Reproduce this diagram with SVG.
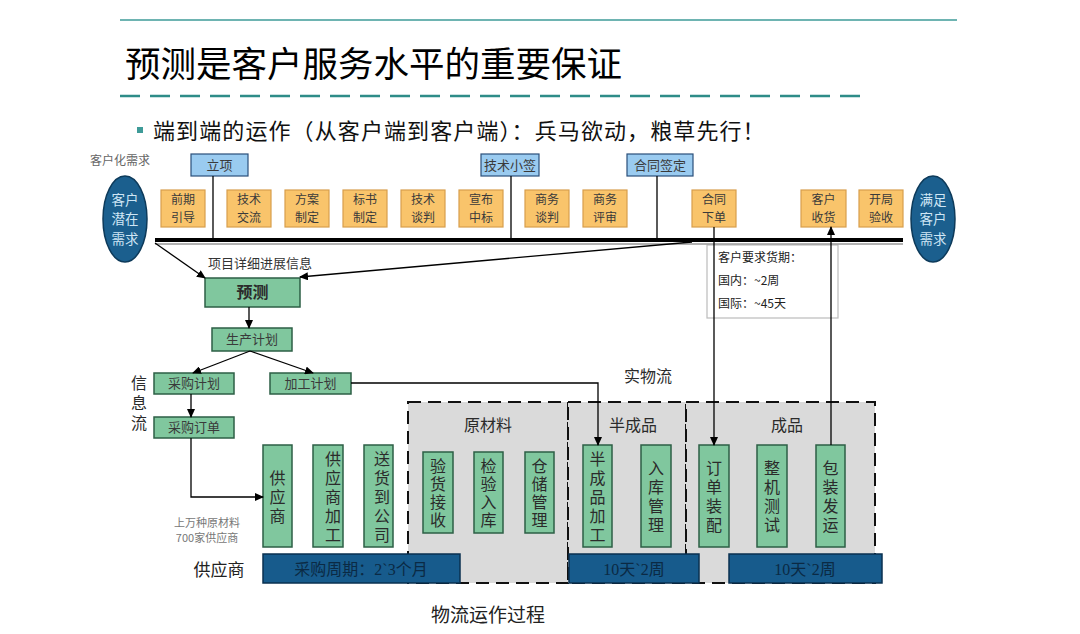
<svg xmlns="http://www.w3.org/2000/svg" width="1080" height="634" viewBox="0 0 1080 634">
<defs>
<marker id="arr" markerWidth="9" markerHeight="8" refX="8" refY="4" orient="auto" markerUnits="userSpaceOnUse">
<path d="M0,0 L9,4 L0,8 z" fill="#000"/>
</marker>
<style>
text{font-family:"Noto Sans CJK SC","Liberation Sans",sans-serif}
.ser{font-family:"Liberation Serif","Noto Sans CJK SC",serif}
.blue{fill:#9ACBF0;stroke:#2A4F7A;stroke-width:1.2}
.org{fill:#F9C46B;stroke:#D79E4C;stroke-width:1.2}
.grn{fill:#80C79E;stroke:#2D5F45;stroke-width:1.5}
.ell{fill:#1B5F8E;stroke:#0D3A5A;stroke-width:1.5}
.bar{fill:#175B8C;stroke:#0A3050;stroke-width:1.5}
.reg{fill:#DADADA;stroke:#111;stroke-width:2;stroke-dasharray:13 7}
.t13{font-size:13px;fill:#3a3a3a;text-anchor:middle}
.t12{font-size:12px;fill:#3a3a3a;text-anchor:middle}
.t16{font-size:16px;fill:#2b2b2b;text-anchor:middle}
.vt{font-size:16px;fill:#2b2b2b;text-anchor:middle;writing-mode:vertical-rl;text-orientation:upright;letter-spacing:3px}
.v2{letter-spacing:2px}
.te{font-size:13.5px;fill:#CFE6F5;text-anchor:middle}
.tb{font-size:16px;fill:#0B2A44;text-anchor:middle}
.ln{stroke:#000;stroke-width:1.3;fill:none}
.la{stroke:#000;stroke-width:1.3;fill:none;marker-end:url(#arr)}
</style>
</defs>
<rect width="1080" height="634" fill="#fff"/>

<!-- header -->
<line x1="120" y1="20" x2="957" y2="20" stroke="#3E9B98" stroke-width="1.5"/>
<text x="125" y="77" font-size="35.5" fill="#000">预测是客户服务水平的重要保证</text>
<line x1="120" y1="96" x2="865" y2="96" stroke="#2E8C88" stroke-width="2.5" stroke-dasharray="20 10"/>
<rect x="137" y="127" width="6" height="6" fill="#3E9B98"/>
<text x="153" y="139" font-size="22" letter-spacing="1.1" fill="#111">端到端的运作（从客户端到客户端）：兵马欲动，粮草先行！</text>
<text x="90" y="165" font-size="12" fill="#666">客户化需求</text>

<!-- regions -->
<g id="reg-raw"><rect class="reg" x="408" y="402" width="160" height="181"/><text class="t16" x="488" y="431" font-size="17">原材料</text></g>
<g id="reg-semi"><rect class="reg" x="568" y="402" width="118" height="181"/><text class="t16" x="633" y="431" font-size="17">半成品</text></g>
<g id="reg-fin"><rect class="reg" x="686" y="402" width="189" height="181"/><text class="t16" x="787" y="431" font-size="17">成品</text></g>

<!-- ellipses -->
<g id="n-start"><ellipse class="ell" cx="125" cy="219" rx="22" ry="43"/><text class="te"><tspan x="125" y="204.5">客户</tspan><tspan x="125" y="224">潜在</tspan><tspan x="125" y="243.5">需求</tspan></text></g>
<g id="n-end"><ellipse class="ell" cx="933" cy="219" rx="22" ry="43"/><text class="te"><tspan x="933" y="204.5">满足</tspan><tspan x="933" y="224">客户</tspan><tspan x="933" y="243.5">需求</tspan></text></g>

<!-- blue milestone boxes -->
<g id="n-lixiang"><rect class="blue" x="191" y="154" width="57" height="22"/><text class="t13" x="219.5" y="170" fill="#1a1a1a">立项</text></g>
<g id="n-jsxq"><rect class="blue" x="481" y="154" width="58" height="22"/><text class="t13" x="510" y="170">技术小签</text></g>
<g id="n-htqd"><rect class="blue" x="627" y="154" width="66" height="22"/><text class="t13" x="660" y="170">合同签定</text></g>

<!-- orange step boxes -->
<g id="n-o1"><rect class="org" x="161" y="190" width="44" height="37"/><text class="t12"><tspan x="183" y="204">前期</tspan><tspan x="183" y="221.5">引导</tspan></text></g>
<g id="n-o2"><rect class="org" x="227" y="190" width="44" height="37"/><text class="t12"><tspan x="249" y="204">技术</tspan><tspan x="249" y="221.5">交流</tspan></text></g>
<g id="n-o3"><rect class="org" x="285" y="190" width="44" height="37"/><text class="t12"><tspan x="307" y="204">方案</tspan><tspan x="307" y="221.5">制定</tspan></text></g>
<g id="n-o4"><rect class="org" x="343" y="190" width="44" height="37"/><text class="t12"><tspan x="365" y="204">标书</tspan><tspan x="365" y="221.5">制定</tspan></text></g>
<g id="n-o5"><rect class="org" x="401" y="190" width="44" height="37"/><text class="t12"><tspan x="423" y="204">技术</tspan><tspan x="423" y="221.5">谈判</tspan></text></g>
<g id="n-o6"><rect class="org" x="459" y="190" width="44" height="37"/><text class="t12"><tspan x="481" y="204">宣布</tspan><tspan x="481" y="221.5">中标</tspan></text></g>
<g id="n-o7"><rect class="org" x="525" y="190" width="44" height="37"/><text class="t12"><tspan x="547" y="204">商务</tspan><tspan x="547" y="221.5">谈判</tspan></text></g>
<g id="n-o8"><rect class="org" x="583" y="190" width="44" height="37"/><text class="t12"><tspan x="605" y="204">商务</tspan><tspan x="605" y="221.5">评审</tspan></text></g>
<g id="n-o9"><rect class="org" x="692" y="190" width="44" height="37"/><text class="t12"><tspan x="714" y="204">合同</tspan><tspan x="714" y="221.5">下单</tspan></text></g>
<g id="n-o10"><rect class="org" x="801" y="190" width="45" height="37"/><text class="t12"><tspan x="823.5" y="204">客户</tspan><tspan x="823.5" y="221.5">收货</tspan></text></g>
<g id="n-o11"><rect class="org" x="859" y="190" width="44" height="37"/><text class="t12"><tspan x="881" y="204">开局</tspan><tspan x="881" y="221.5">验收</tspan></text></g>

<!-- delivery note -->
<g id="n-note"><rect x="707" y="245" width="131" height="73" fill="#fff" stroke="#bbb" stroke-width="1.2"/>
<text x="718" y="262" font-size="12" fill="#222">客户要求货期：</text>
<text x="718" y="285" font-size="12" fill="#222">国内：~2周</text>
<text x="718" y="308" font-size="12" fill="#222">国际：~45天</text></g>

<!-- info flow -->
<text x="208" y="268" font-size="13" fill="#333">项目详细进展信息</text>
<g id="n-yuce"><rect class="grn" x="205" y="278" width="95" height="29"/><text class="t16" x="252.5" y="298" font-weight="bold" fill="#111">预测</text></g>
<g id="n-scjh"><rect class="grn" x="212" y="328" width="80" height="23"/><text class="t13" x="252" y="344" font-size="14">生产计划</text></g>
<g id="n-cgjh"><rect class="grn" x="154" y="373" width="80" height="21"/><text class="t13" x="194" y="388" font-size="14">采购计划</text></g>
<g id="n-jgjh"><rect class="grn" x="270" y="373" width="81" height="21"/><text class="t13" x="310.5" y="388" font-size="14">加工计划</text></g>
<g id="n-cgdd"><rect class="grn" x="154" y="417" width="80" height="21"/><text class="t13" x="194" y="432" font-size="14">采购订单</text></g>
<text class="vt" x="139" y="405" font-size="18" style="letter-spacing:4px">信息流</text>
<text class="t16" x="648" y="382" font-size="18">实物流</text>

<!-- supplier boxes -->
<g id="n-gys"><rect class="grn" x="263" y="445" width="29" height="102"/><text class="vt" x="277.5" y="498">供应商</text></g>
<g id="n-gysjg"><rect class="grn" x="313" y="445" width="30" height="102"/><text class="vt" x="333" y="498">供应商加工</text></g>
<g id="n-shdgs"><rect class="grn" x="364" y="445" width="29" height="102"/><text class="vt" x="382" y="498">送货到公司</text></g>

<!-- raw material boxes -->
<g id="n-yhjs"><rect class="grn" x="423" y="452" width="30" height="81"/><text class="vt v2" x="438" y="494">验货接收</text></g>
<g id="n-jyrk"><rect class="grn" x="474" y="452" width="29" height="81"/><text class="vt v2" x="488.5" y="494">检验入库</text></g>
<g id="n-ccgl"><rect class="grn" x="525" y="452" width="29" height="81"/><text class="vt v2" x="539.5" y="494">仓储管理</text></g>

<!-- semi boxes -->
<g id="n-bcpjg"><rect class="grn" x="583" y="445" width="29" height="102"/><text class="vt" x="597.5" y="498">半成品加工</text></g>
<g id="n-rkgl"><rect class="grn" x="641" y="445" width="30" height="102"/><text class="vt" x="656" y="498">入库管理</text></g>

<!-- finished boxes -->
<g id="n-ddzp"><rect class="grn" x="699" y="445" width="30" height="102"/><text class="vt" x="714" y="498">订单装配</text></g>
<g id="n-zjcs"><rect class="grn" x="757" y="445" width="30" height="102"/><text class="vt" x="772" y="498">整机测试</text></g>
<g id="n-bzfy"><rect class="grn" x="816" y="445" width="29" height="102"/><text class="vt" x="830.5" y="498">包装发运</text></g>

<!-- duration bars -->
<g id="bar1"><rect class="bar" x="263" y="554" width="197" height="29"/><text class="tb ser" x="361" y="575">采购周期：2`3个月</text></g>
<g id="bar2"><rect class="bar" x="569" y="554" width="130" height="29"/><text class="tb ser" x="634" y="575">10天`2周</text></g>
<g id="bar3"><rect class="bar" x="729" y="554" width="153" height="29"/><text class="tb ser" x="805" y="575">10天`2周</text></g>

<text x="207" y="527" font-size="11" fill="#777" text-anchor="middle">上万种原材料</text>
<text x="207" y="542" font-size="11" fill="#777" text-anchor="middle">700家供应商</text>
<text x="219" y="576" font-size="17" fill="#222" text-anchor="middle">供应商</text>
<text x="488" y="622" font-size="19" fill="#222" text-anchor="middle">物流运作过程</text>

<!-- connectors -->
<g id="connectors">
<line x1="155" y1="244" x2="903" y2="244" stroke="#999" stroke-width="1.5"/>
<line x1="155" y1="240" x2="903" y2="240" stroke="#000" stroke-width="4"/>
<line class="ln" x1="213" y1="176" x2="213" y2="238"/>
<line class="ln" x1="511" y1="176" x2="511" y2="238"/>
<line class="ln" x1="657" y1="176" x2="657" y2="238"/>
<line class="la" x1="714" y1="227" x2="714" y2="445"/>
<line class="la" x1="831" y1="445" x2="831" y2="227"/>
<line class="la" x1="155" y1="243" x2="205" y2="278"/>
<line class="la" x1="692" y1="242" x2="300" y2="277"/>
<line class="la" x1="249" y1="307" x2="249" y2="328"/>
<line class="la" x1="250" y1="351" x2="193" y2="373"/>
<line class="la" x1="250" y1="351" x2="313" y2="373"/>
<line class="la" x1="191" y1="394" x2="191" y2="417"/>
<polyline class="la" points="191,438 191,497 263,497"/>
<polyline class="la" points="351,383 598,383 598,445"/>
</g>
</svg>
